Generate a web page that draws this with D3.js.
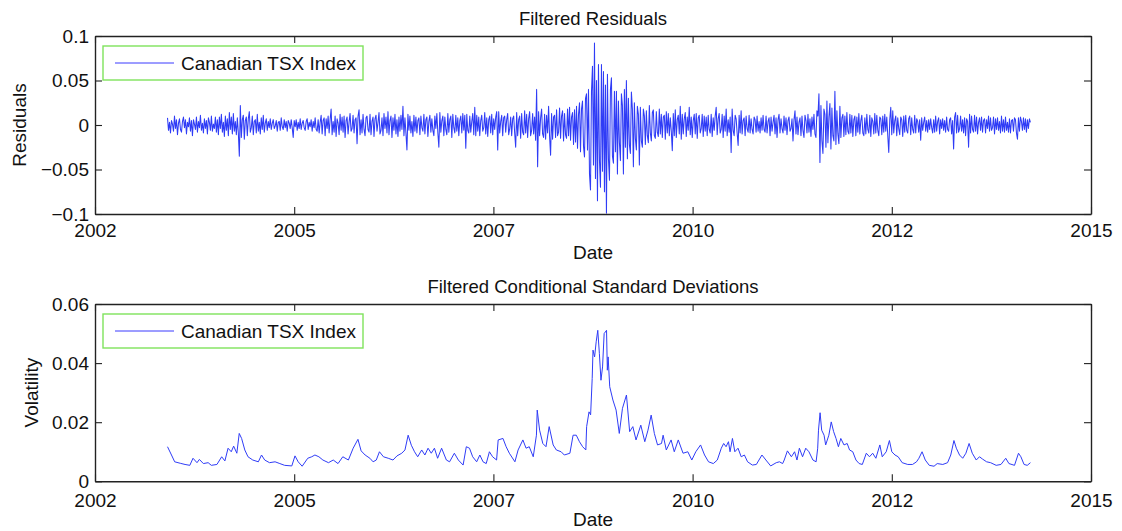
<!DOCTYPE html>
<html lang="en">
<head>
    <meta charset="UTF-8">
    <title>Filtered Residuals and Conditional Standard Deviations</title>
    <script src="https://cdn.jsdelivr.net/npm/d3@7/dist/d3.min.js"></script>
    <style>
        body { margin: 0; background: #fff; }
        text { font-family: "Liberation Sans", Arial, Helvetica, sans-serif; fill: #111; }
    </style>
</head>
<body>
<svg id="chart" width="1122" height="531"></svg>
</body>
<script>
    // values are stored in thousandths
    const UNIT = 0.001;
    const seriesName = "Canadian TSX Index";

    const xTickValues = [2002.5, 2005, 2007.5, 2010, 2012.5, 2015];
    const xTickLabels = ["2002", "2005", "2007", "2010", "2012", "2015"];

    const resTicks = [-0.1, -0.05, 0, 0.05, 0.1];
    const resTickLabels = ["\u22120.1", "\u22120.05", "0", "0.05", "0.1"];
    const volTicks = [0, 0.02, 0.04, 0.06];
    const volTickLabels = ["0", "0.02", "0.04", "0.06"];

    // residuals: first observation date and spacing (years), then values
    const resStart = 2003.41;
    const resStep = 0.01252;
    const residuals = [
        8,-6,3,-9,5,1,-7,10,-4,6,-11,2,7,-5,-8,4,9,-3,6,-10,3,-2,8,-7,5,-12,6,1,-5,9,-8,4,-3,11,-6,2,-9,7,-4,5,-10,8,3,-6,10,-7,1,-4,9,-8,
        6,-11,9,-4,12,-8,3,-13,10,-6,7,-12,14,-5,9,-10,13,-7,4,-11,8,-9,-35,22,-14,6,11,-16,5,9,-12,7,15,-8,-3,10,-11,4,6,-9,12,-7,3,-10,8,-5,11,-8,2,7,
        -6,4,-3,7,-5,2,6,-4,-1,5,-7,3,4,-6,8,-2,-5,6,-3,4,-7,5,2,-4,6,-3,-14,5,-2,6,-6,3,-4,7,-5,2,5,-3,-6,4,7,-5,3,-2,6,-7,4,-3,8,-5,
        -7,6,-9,3,11,-10,5,8,-12,7,-4,10,-9,6,18,-11,4,-8,10,-13,7,2,-11,12,-6,9,-8,10,-14,5,9,-10,3,13,-7,-4,11,-9,6,8,-21,10,17,-11,6,-9,12,-5,-12,8,
        10,-5,-8,12,-11,4,9,-13,7,11,-7,3,14,-10,-6,8,-12,13,-4,9,-9,15,-11,5,10,-14,8,-6,12,-10,6,-13,9,-7,11,-5,21,-12,8,-9,-28,12,-6,10,-9,4,-13,11,-7,9,
        -9,5,8,-11,10,-3,-7,12,-10,6,9,-13,4,11,-8,7,-6,-12,10,-4,13,-9,-25,14,-8,5,10,-12,9,-5,-11,13,-8,6,10,-14,12,-3,-9,11,-7,8,-12,5,10,-9,13,-6,11,-26,
        12,-6,-9,10,-8,4,13,-11,20,-12,11,-7,9,-12,5,11,-7,-3,14,-10,8,-13,6,10,-9,12,-11,7,-5,9,15,-28,15,-9,4,11,-12,8,10,-8,6,13,-11,-4,9,-12,7,10,-9,-25,
        14,-12,6,10,-15,13,-8,-11,16,-9,12,-14,7,15,-12,-6,13,-10,9,-17,40,-47,15,-12,8,18,-10,-14,12,-16,11,-9,21,-13,-34,13,-16,9,11,-14,17,-12,-8,19,-15,10,16,-18,13,-11,
        -15,18,-12,20,-17,9,14,-22,17,-19,21,-26,12,25,-30,18,27,-24,-36,30,35,-28,40,-55,-73,38,66,-45,92,-60,50,-85,68,-40,-70,68,-52,60,-75,45,-99,57,-38,-62,40,53,-35,-43,38,-30,
        38,-55,27,-20,-40,35,22,-55,40,-25,50,-38,30,-22,-32,37,18,-47,25,-15,-28,21,12,-45,20,-18,-25,18,10,-22,16,-12,-20,22,-9,-18,14,17,-12,-15,15,-8,-13,18,-10,12,-14,9,11,-16,
        15,-9,13,-12,8,-7,-29,13,-12,17,-14,6,11,-10,21,-16,12,-10,7,14,-13,9,-6,20,-11,9,-14,5,12,-10,13,-15,8,11,-9,-4,12,-13,10,-7,9,-12,11,-5,-9,12,-13,8,-6,10,
        20,-11,7,13,-9,-5,12,-14,10,-7,18,-12,6,-8,9,-31,18,-6,-12,11,7,-9,-23,11,-9,16,-10,5,8,-12,10,-4,-8,11,-9,7,-5,-10,9,6,-8,10,-7,4,-9,8,-6,11,-5,-8,
        10,-9,4,8,-12,9,-7,3,11,-10,8,-14,6,12,-9,7,-4,-9,10,-6,8,-11,5,9,-7,-4,7,-18,6,16,-10,9,-11,3,8,-12,10,-6,-14,11,5,-9,12,-8,7,-13,9,-5,12,-10,
        -14,16,10,35,-42,22,-18,-32,18,12,-25,27,-20,9,24,-27,19,-12,-18,38,-22,16,-10,-21,21,-14,8,12,-13,10,-11,14,-7,-10,12,-9,11,-13,6,10,-12,9,-8,13,-10,5,11,-9,-12,8,
        -10,12,-5,-9,11,-13,8,4,-10,13,-9,11,-6,-12,9,7,-11,10,-8,12,-7,9,-12,-31,6,20,-11,16,-9,5,10,-12,8,-4,-11,9,6,-13,10,-8,11,-6,-9,7,10,-11,8,-5,-9,11,
        -9,7,4,-8,6,-17,8,-6,3,9,-7,5,-8,6,-5,7,-3,-9,6,-8,10,-7,4,8,-10,6,-4,7,-6,5,-8,9,-5,-7,6,8,-10,5,-27,9,14,-9,11,-8,-4,10,-7,6,-9,8,
        -12,7,4,-25,12,-9,10,-5,-8,11,-7,9,-10,3,8,-6,9,-8,5,7,-9,6,-4,10,-7,8,-6,-3,9,-10,7,-5,8,-6,4,-9,10,-7,6,-8,9,-6,3,-8,7,-9,5,6,-7,8,
        6,-9,-16,8,-7,9,4,-6,8,-5,7,-8,6,-4,7,3
    ];

    const volDates = [
        2003.41,2003.46,2003.50,2003.57,2003.63,2003.69,2003.73,2003.78,2003.81,2003.86,2003.92,2003.96,
        2004.03,2004.09,2004.13,2004.17,2004.21,2004.24,2004.28,2004.31,2004.34,2004.38,2004.42,2004.48,
        2004.55,2004.59,2004.63,2004.69,2004.76,2004.82,2004.88,2004.97,2005.01,2005.05,2005.10,2005.17,
        2005.22,2005.26,2005.31,2005.36,2005.43,2005.49,2005.55,2005.61,2005.68,2005.74,2005.80,2005.84,
        2005.89,2005.95,2005.99,2006.03,2006.07,2006.12,2006.18,2006.24,2006.29,2006.35,2006.39,2006.43,
        2006.47,2006.51,2006.55,2006.60,2006.64,2006.68,2006.72,2006.76,2006.80,2006.85,2006.91,2006.95,
        2007.01,2007.06,2007.12,2007.16,2007.20,2007.24,2007.29,2007.33,2007.37,2007.41,2007.45,2007.49,
        2007.54,2007.56,2007.62,2007.66,2007.70,2007.77,2007.81,2007.87,2007.91,2007.95,2008.00,2008.04,
        2008.05,2008.08,2008.12,2008.16,2008.20,2008.25,2008.29,2008.35,2008.39,2008.46,2008.50,2008.54,
        2008.58,2008.62,2008.66,2008.67,2008.70,2008.72,2008.74,2008.75,2008.77,2008.79,2008.81,2008.83,
        2008.85,2008.87,2008.89,2008.92,2008.93,2008.94,2008.96,2009.00,2009.04,2009.08,2009.12,2009.17,
        2009.21,2009.25,2009.29,2009.35,2009.40,2009.44,2009.48,2009.52,2009.56,2009.61,2009.63,2009.67,
        2009.73,2009.77,2009.82,2009.88,2009.94,2009.99,2010.04,2010.10,2010.15,2010.20,2010.26,2010.31,
        2010.36,2010.39,2010.42,2010.45,2010.47,2010.50,2010.53,2010.57,2010.61,2010.65,2010.69,2010.75,
        2010.80,2010.87,2010.92,2010.98,2011.05,2011.09,2011.13,2011.15,2011.19,2011.24,2011.28,2011.31,
        2011.34,2011.38,2011.42,2011.46,2011.51,2011.55,2011.57,2011.58,2011.60,2011.62,2011.65,2011.67,
        2011.71,2011.74,2011.77,2011.80,2011.83,2011.86,2011.90,2011.94,2011.97,2012.01,2012.05,2012.09,
        2012.13,2012.18,2012.22,2012.26,2012.30,2012.35,2012.38,2012.43,2012.47,2012.50,2012.54,2012.58,
        2012.63,2012.70,2012.76,2012.81,2012.84,2012.88,2012.92,2012.97,2013.03,2013.07,2013.14,2013.20,
        2013.24,2013.28,2013.31,2013.35,2013.39,2013.43,2013.47,2013.51,2013.56,2013.60,2013.64,2013.69,
        2013.74,2013.81,2013.87,2013.93,2013.97,2014.04,2014.09,2014.12,2014.16,2014.20,2014.24
    ];
    const volatility = [
        11.7,8.9,6.6,6.1,5.7,5.4,7.8,6.3,7.4,6.0,6.3,5.4,
        5.7,8.3,6.9,11.2,10.0,11.9,9.5,16.2,14.5,10.6,8.3,7.2,
        6.6,8.9,7.2,6.3,6.6,6.0,5.4,5.2,8.6,6.6,5.1,7.8,
        8.3,8.9,8.3,7.2,6.3,7.2,6.0,8.3,7.2,11.2,14.2,10.3,
        8.9,7.8,6.6,7.2,10.0,8.3,7.8,7.2,8.6,9.5,10.6,15.6,
        12.2,10.0,8.3,10.6,8.9,11.2,9.5,11.2,7.8,11.2,7.2,6.6,
        9.5,7.2,5.5,11.7,11.2,8.3,6.6,8.9,6.6,6.0,10.0,8.3,
        7.2,14.0,14.5,11.7,9.5,6.6,10.6,14.0,11.2,11.7,8.3,15.6,
        24.1,17.3,12.8,11.7,18.5,12.3,10.6,10.0,8.9,9.5,15.6,15.6,
        13.4,11.7,10.6,18.5,23.5,22.5,34.8,44.4,42.1,47.2,51.1,43.3,
        34.2,38.7,50.0,51.1,37.6,42.1,32.0,27.5,24.1,16.2,24.7,29.2,
        16.8,18.5,14.0,19.0,13.4,17.3,22.4,16.2,12.3,12.8,15.6,10.6,
        14.0,10.0,14.0,9.5,10.0,7.2,10.0,12.3,8.9,6.6,6.0,7.2,
        11.2,12.8,11.7,13.4,10.0,14.5,10.0,11.2,8.3,8.9,6.6,5.5,
        5.7,8.9,7.2,5.2,6.3,6.6,6.0,7.2,10.3,8.3,10.0,7.2,
        11.2,8.3,11.2,10.0,7.2,6.6,11.2,17.3,23.2,17.3,15.6,12.3,
        15.6,20.1,16.8,14.5,11.7,14.5,12.3,12.8,10.6,10.0,7.2,6.0,
        5.7,9.5,8.3,9.5,7.8,12.3,8.3,10.0,13.8,10.0,8.9,8.3,
        6.3,5.7,5.7,6.6,7.8,10.0,7.2,5.4,5.1,6.0,5.7,6.3,
        8.9,13.8,11.2,8.9,7.8,9.5,12.8,9.5,7.2,8.3,7.5,6.6,
        6.3,5.4,5.7,7.8,6.0,5.4,9.5,8.3,5.7,5.4,6.3
    ];

    const resData = residuals.map((v, i) => ({date: resStart + i * resStep, value: v * UNIT}));
    const volData = volDates.map((d, i) => ({date: d, value: volatility[i] * UNIT}));

    const svg = d3.select('#chart');
    svg.append('rect').attr('width', 1122).attr('height', 531).attr('fill', '#fff');

    const left = 95, right = 1091;
    const x = d3.scaleLinear().domain([2002.5, 2015]).range([left, right]);

    function drawPanel(p) {
        const y = d3.scaleLinear().domain(p.domain).range([p.bottom, p.top]);
        const g = svg.append('g');
        const clipId = 'clip' + p.id;
        g.append('clipPath').attr('id', clipId)
            .append('rect').attr('x', left).attr('y', p.top)
            .attr('width', right - left).attr('height', p.bottom - p.top);

        g.append('path')
            .datum(p.data)
            .attr('clip-path', 'url(#' + clipId + ')')
            .attr('fill', 'none')
            .attr('stroke', '#2f3cf6')
            .attr('stroke-width', p.lineWidth)
            .attr('stroke-linejoin', 'round')
            .attr('d', d3.line().x(d => x(d.date)).y(d => y(d.value)));

        const xAxis = d3.axisBottom(x).tickValues(xTickValues)
            .tickFormat((d, i) => xTickLabels[i]).tickSizeInner(-7).tickSizeOuter(0).tickPadding(p.xPad);
        const yAxis = d3.axisLeft(y).tickValues(p.ticks)
            .tickFormat((d, i) => p.tickLabels[i]).tickSizeInner(-7).tickSizeOuter(0).tickPadding(6);

        g.append('g').attr('transform', `translate(0,${p.bottom})`).call(xAxis);
        g.append('g').attr('transform', `translate(${left},0)`).call(yAxis);
        g.append('g').attr('transform', `translate(0,${p.top})`)
            .call(d3.axisTop(x).tickValues(xTickValues).tickFormat('').tickSizeInner(-7).tickSizeOuter(0));
        g.append('g').attr('transform', `translate(${right},0)`)
            .call(d3.axisRight(y).tickValues(p.ticks).tickFormat('').tickSizeInner(-7).tickSizeOuter(0));

        g.selectAll('.domain').attr('stroke', '#222').attr('stroke-width', 1.4);
        g.selectAll('.tick line').attr('stroke', '#222').attr('stroke-width', 1.1);
        g.selectAll('.tick text').style('font-size', '19px').attr('fill', '#111')
            .style('font-family', '"Liberation Sans", Arial, Helvetica, sans-serif');

        // title and axis labels
        g.append('text').attr('x', (left + right) / 2).attr('y', p.top - 11)
            .attr('text-anchor', 'middle').style('font-size', '18.5px').text(p.title);
        g.append('text').attr('x', (left + right) / 2).attr('y', p.bottom + 45)
            .attr('text-anchor', 'middle').style('font-size', '19px').text('Date');
        g.append('text')
            .attr('transform', `translate(${p.ylabelX},${(p.top + p.bottom) / 2}) rotate(-90)`)
            .attr('text-anchor', 'middle').style('font-size', '19px').text(p.ylabel);

        // legend
        const lg = g.append('g').attr('transform', `translate(${left + 8},${p.top + 10})`);
        lg.append('rect').attr('width', 260).attr('height', 34)
            .attr('fill', '#fff').attr('stroke', '#7fe35c').attr('stroke-width', 1.4);
        lg.append('line').attr('x1', 12).attr('x2', 71).attr('y1', 17).attr('y2', 17)
            .attr('stroke', '#3a3aff').attr('stroke-width', 1);
        lg.append('text').attr('x', 78).attr('y', 17).attr('dy', '0.35em')
            .style('font-size', '19px').text(seriesName);
    }

    drawPanel({
        id: 'res', top: 36, bottom: 214, domain: [-0.1, 0.1],
        ticks: resTicks, tickLabels: resTickLabels, data: resData, lineWidth: 1.05, xPad: 10,
        title: 'Filtered Residuals', ylabel: 'Residuals', ylabelX: 26
    });
    drawPanel({
        id: 'vol', top: 304, bottom: 481.3, domain: [0, 0.06],
        ticks: volTicks, tickLabels: volTickLabels, data: volData, lineWidth: 1, xPad: 12,
        title: 'Filtered Conditional Standard Deviations', ylabel: 'Volatility', ylabelX: 38
    });
</script>
</html>
